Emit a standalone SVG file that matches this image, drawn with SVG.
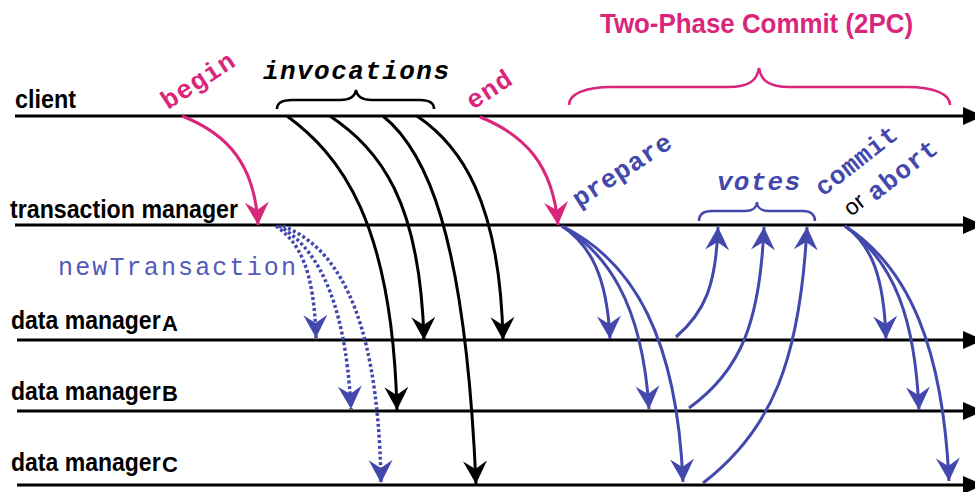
<svg xmlns="http://www.w3.org/2000/svg" width="975" height="492" viewBox="0 0 975 492">
<style>
.lbl{font-family:"Liberation Sans",Arial,sans-serif;font-weight:bold;font-size:26px;fill:#000}
.sub{font-family:"Liberation Sans",Arial,sans-serif;font-weight:bold;font-size:22px;fill:#000}
.tl{stroke:#000;stroke-width:3;fill:none}
.mono{font-family:"Liberation Mono","Courier New",monospace;font-weight:bold;font-size:26px}
.pk{fill:#d9267b}
.bl{fill:#4348ad}
.c-k{stroke:#000;stroke-width:3;fill:none;marker-end:url(#ak)}
.c-p{stroke:#d9267b;stroke-width:3;fill:none;marker-end:url(#ap)}
.c-b{stroke:#4348ad;stroke-width:3;fill:none;marker-end:url(#ab)}
.c-d{stroke:#4348ad;stroke-width:3.5;stroke-dasharray:3 2.5;fill:none;marker-end:url(#ab)}
.brace{fill:none;stroke-width:2.5}
</style>
<defs>
<marker id="ak" markerUnits="userSpaceOnUse" viewBox="-25 -14 27 28" refX="0" refY="0" markerWidth="27" markerHeight="28" orient="auto"><path d="M0,0 L-23,-12 L-15,0 L-23,12 Z" fill="#000"/></marker>
<marker id="ap" markerUnits="userSpaceOnUse" viewBox="-25 -14 27 28" refX="0" refY="0" markerWidth="27" markerHeight="28" orient="auto"><path d="M0,0 L-23,-12 L-15,0 L-23,12 Z" fill="#d9267b"/></marker>
<marker id="ab" markerUnits="userSpaceOnUse" viewBox="-25 -14 27 28" refX="0" refY="0" markerWidth="27" markerHeight="28" orient="auto"><path d="M0,0 L-23,-12 L-15,0 L-23,12 Z" fill="#4348ad"/></marker>
</defs>

<text x="600" y="33" font-family="Liberation Sans, Arial, sans-serif" font-weight="bold" font-size="28" fill="#d9267b" textLength="313" lengthAdjust="spacingAndGlyphs">Two-Phase Commit (2PC)</text>

<g id="client">
<line class="tl" x1="15" y1="116" x2="966" y2="116"/>
<polygon points="963,107 984,116 963,125" fill="#000"/>
<text class="lbl" x="15" y="108" textLength="61" lengthAdjust="spacingAndGlyphs">client</text>
</g>
<g id="transaction-manager">
<line class="tl" x1="15" y1="225" x2="966" y2="225"/>
<polygon points="963,216 984,225 963,234" fill="#000"/>
<text class="lbl" x="10" y="218" textLength="228" lengthAdjust="spacingAndGlyphs">transaction manager</text>
</g>
<g id="data-manager-a">
<line class="tl" x1="17" y1="340" x2="966" y2="340"/>
<polygon points="963,331 984,340 963,349" fill="#000"/>
<text class="lbl" transform="translate(11,329) scale(0.885,1)">data manager</text>
<text class="sub" x="162" y="331">A</text>
</g>
<g id="data-manager-b">
<line class="tl" x1="17" y1="411" x2="966" y2="411"/>
<polygon points="963,402 984,411 963,420" fill="#000"/>
<text class="lbl" transform="translate(11,400) scale(0.885,1)">data manager</text>
<text class="sub" x="162" y="401">B</text>
</g>
<g id="data-manager-c">
<line class="tl" x1="17" y1="485" x2="966" y2="485"/>
<polygon points="963,476 984,485 963,494" fill="#000"/>
<text class="lbl" transform="translate(11,471) scale(0.885,1)">data manager</text>
<text class="sub" x="162" y="472">C</text>
</g>

<g id="labels">
<path class="brace" stroke="#d9267b" stroke-width="3" d="M569,105 C569,94 585,87 612,87 L728,87 C750,87 757,80 759,68 C761,80 768,87 790,87 L907,87 C934,87 950,94 950,105"/>
<path class="brace" stroke="#000" d="M277,109 C277,103 283,100 292,100 L340,100 C350,100 355,96 356,90 C357,96 362,100 372,100 L420,100 C429,100 434,103 434,109"/>
<path class="brace" stroke="#4348ad" d="M699,221 C699,215 703,211 712,211 L745,211 C753,211 757,207 757,202 C757,207 761,211 769,211 L803,211 C811,211 815,215 815,221"/>
<text class="mono" x="263" y="79" font-style="italic" fill="#000" textLength="186">invocations</text>
<text class="mono bl" x="717" y="190" font-style="italic" textLength="83">votes</text>
<text x="58" y="275" font-family="Liberation Mono, Courier New, monospace" font-size="25" fill="#5559bb" textLength="238">newTransaction</text>
<text class="mono pk" transform="translate(168,110) rotate(-33)" textLength="82">begin</text>
<text class="mono pk" transform="translate(473,110) rotate(-33)" textLength="49">end</text>
<text class="mono bl" transform="translate(579,208) rotate(-33)" textLength="113">prepare</text>
<text class="mono bl" transform="translate(823,197) rotate(-38)" textLength="97">commit</text>
<text transform="translate(851,217) rotate(-38)" font-family="Liberation Sans, Arial, sans-serif" font-size="23" fill="#000">or</text>
<text class="mono bl" transform="translate(875,202) rotate(-38)" textLength="82">abort</text>
</g>

<g id="connectors">
<path class="c-p" d="M182,116 C228,134 255,165 258,225"/>
<path class="c-p" d="M480,117 C525,135 553,165 558,225"/>
<path class="c-k" d="M287,116 C340,155 392,220 397,410"/>
<path class="c-k" d="M330,116 C380,150 420,200 424,340"/>
<path class="c-k" d="M383,116 C425,150 465,230 476,484"/>
<path class="c-k" d="M417,116 C460,145 500,200 503,340"/>
<path class="c-d" d="M276,226 C300,243 314,270 316,338"/>
<path class="c-d" d="M279,226 C312,245 345,290 351,409"/>
<path class="c-d" d="M283,226 C330,245 378,300 381,483"/>
<path class="c-b" d="M562,226 C590,245 607,275 610,339"/>
<path class="c-b" d="M562,226 C605,252 642,300 649,409"/>
<path class="c-b" d="M562,226 C635,262 677,340 683,482"/>
<path class="c-b" d="M676,337 C705,312 716,285 718,227"/>
<path class="c-b" d="M689,408 C742,370 760,320 764,227"/>
<path class="c-b" d="M703,483 C772,430 800,360 807,227"/>
<path class="c-b" d="M845,226 C872,245 884,278 886,339"/>
<path class="c-b" d="M845,226 C895,262 915,320 919,410"/>
<path class="c-b" d="M845,226 C910,268 943,350 949,481"/>
</g>
</svg>
